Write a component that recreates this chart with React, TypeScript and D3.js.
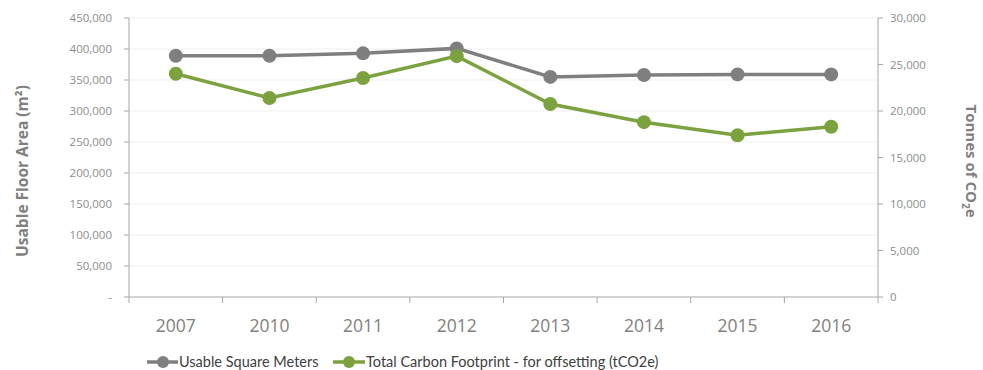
import React from "react";
import * as d3 from "d3";

const years = ["2007", "2010", "2011", "2012", "2013", "2014", "2015", "2016"];
const floorArea = [389000, 389000, 393000, 401000, 355000, 358000, 359000, 359000];
const carbon = [24000, 21400, 23550, 25900, 20750, 18800, 17400, 18300];
const leftTicks = [0, 50000, 100000, 150000, 200000, 250000, 300000, 350000, 400000, 450000];
const rightTicks = [0, 5000, 10000, 15000, 20000, 25000, 30000];
const legendLabels = ["Usable Square Meters", "Total Carbon Footprint - for offsetting (tCO2e)"];

const GRAY = "#7f7f7f";
const GREEN = "#7ba23f";
const TEXT = "#8c8c8c";
const FONT = "'Open Sans', 'Noto Sans', sans-serif";

const App = () => {
  const width = 983;
  const height = 370;
  const margin = { top: 18, right: 105, bottom: 73, left: 129 };
  const innerW = width - margin.left - margin.right;
  const innerH = height - margin.top - margin.bottom;

  const x = d3.scaleBand().domain(years).range([0, innerW]);
  const yL = d3.scaleLinear().domain([0, 450000]).range([innerH, 0]);
  const yR = d3.scaleLinear().domain([0, 30000]).range([innerH, 0]);
  const fmt = d3.format(",");
  const cx = (d: string) => (x(d) as number) + x.bandwidth() / 2;

  const grayLine = d3
    .line<number>()
    .x((_, i) => cx(years[i]))
    .y((d) => yL(d));
  const greenLine = d3
    .line<number>()
    .x((_, i) => cx(years[i]))
    .y((d) => yR(d));

  return (
    <svg
      width={width}
      height={height}
      style={{ position: "absolute", left: 0, top: 0, background: "#fff" }}
      fontFamily={FONT}
    >
      <g transform={`translate(${margin.left},${margin.top})`}>
        {/* gridlines */}
        {leftTicks.slice(1).map((t) => (
          <line key={t} x1={0} x2={innerW} y1={yL(t)} y2={yL(t)} stroke="#efefef" />
        ))}

        {/* left axis */}
        <line x1={0} x2={0} y1={0} y2={innerH} stroke="#a6a6a6" />
        {leftTicks.map((t) => (
          <g key={t} transform={`translate(0,${yL(t)})`}>
            <line x1={-5} x2={0} stroke="#a6a6a6" />
            <text x={-17} dy="0.35em" textAnchor="end" fontSize={11.5} fill={TEXT}>
              {t === 0 ? "-" : fmt(t)}
            </text>
          </g>
        ))}

        {/* right axis */}
        <line x1={innerW} x2={innerW} y1={0} y2={innerH} stroke="#a6a6a6" />
        {rightTicks.map((t) => (
          <g key={t} transform={`translate(${innerW},${yR(t)})`}>
            <line x1={0} x2={5} stroke="#a6a6a6" />
            <text x={12} dy="0.35em" textAnchor="start" fontSize={11.5} fill={TEXT}>
              {fmt(t)}
            </text>
          </g>
        ))}

        {/* bottom axis */}
        <line x1={0} x2={innerW} y1={innerH} y2={innerH} stroke="#a6a6a6" />
        {years.map((y, i) => (
          <g key={y}>
            <line
              x1={x(y) as number}
              x2={x(y) as number}
              y1={innerH}
              y2={innerH + 6}
              stroke="#a6a6a6"
            />
            {i === years.length - 1 && (
              <line x1={innerW} x2={innerW} y1={innerH} y2={innerH + 6} stroke="#a6a6a6" />
            )}
            <text
              x={cx(y)}
              y={innerH + 35}
              textAnchor="middle"
              fontSize={17.5}
              fill={GRAY}
            >
              {y}
            </text>
          </g>
        ))}

        {/* series */}
        <path d={grayLine(floorArea) || ""} fill="none" stroke={GRAY} strokeWidth={3.5} />
        {floorArea.map((v, i) => (
          <circle key={i} cx={cx(years[i])} cy={yL(v)} r={7} fill={GRAY} />
        ))}
        <path d={greenLine(carbon) || ""} fill="none" stroke={GREEN} strokeWidth={3.5} />
        {carbon.map((v, i) => (
          <circle key={i} cx={cx(years[i])} cy={yR(v)} r={7} fill={GREEN} />
        ))}
      </g>

      {/* axis titles */}
      <text
        transform="translate(28,171) rotate(-90)"
        textAnchor="middle"
        fontSize={15.5}
        fontWeight="bold"
        fill={GRAY}
      >
        Usable Floor Area (m²)
      </text>
      <text
        transform="translate(966,161) rotate(90)"
        textAnchor="middle"
        fontSize={15}
        fontWeight="bold"
        fill={GRAY}
      >
        Tonnes of CO<tspan fontSize={10} dy={4}>2</tspan>
        <tspan dy={-4}>e</tspan>
      </text>

      {/* legend */}
      <g transform="translate(147,362)" fontFamily="Lato, 'Open Sans', sans-serif">
        <line x1={0} x2={31} y1={0} y2={0} stroke={GRAY} strokeWidth={3.5} />
        <circle cx={16} cy={0} r={6} fill={GRAY} />
        <text x={32} dy="0.35em" fontSize={14.5} fill="#404040">
          {legendLabels[0]}
        </text>
        <line x1={186} x2={218} y1={0} y2={0} stroke={GREEN} strokeWidth={3.5} />
        <circle cx={202} cy={0} r={6} fill={GREEN} />
        <text x={219} dy="0.35em" fontSize={14.5} fill="#404040">
          {legendLabels[1]}
        </text>
      </g>
    </svg>
  );
};

export default App;
